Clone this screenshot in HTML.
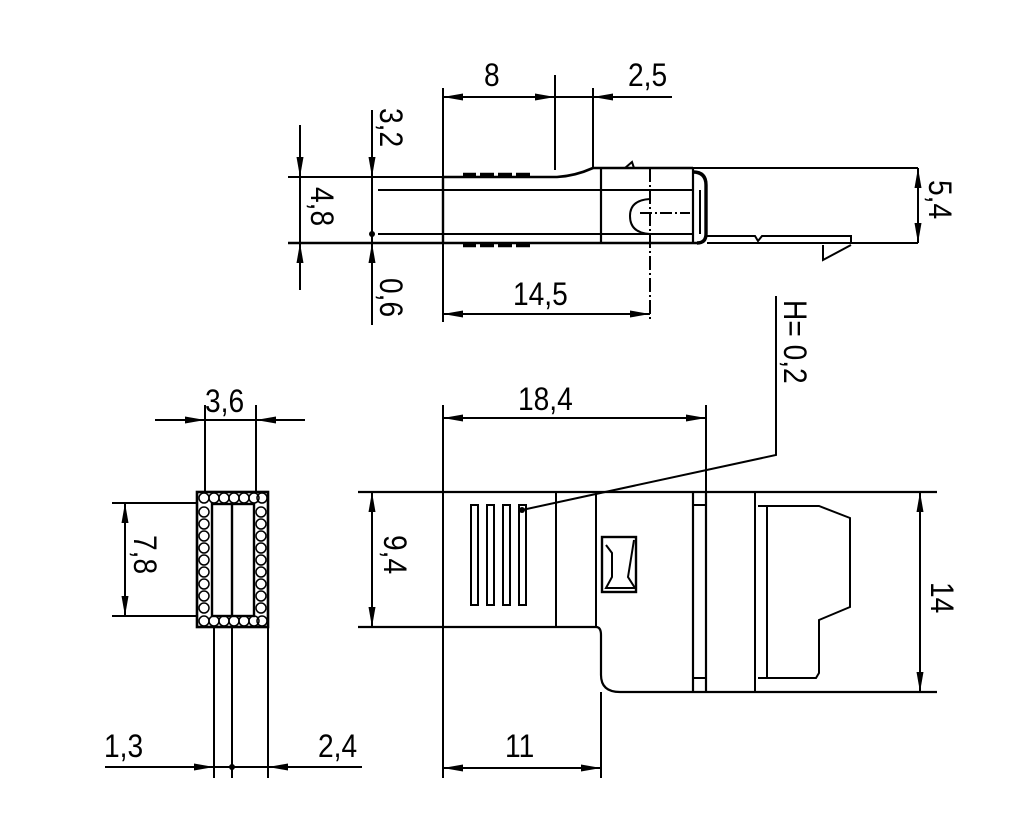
<!DOCTYPE html>
<html><head><meta charset="utf-8">
<style>
html,body{margin:0;padding:0;background:#fff;}
svg{display:block;}
text{font-family:"Liberation Sans",sans-serif;font-size:32px;fill:#000;}
</style></head>
<body>
<svg width="1012" height="834" viewBox="0 0 1012 834" xmlns="http://www.w3.org/2000/svg">
<defs>
<marker id="a" markerUnits="userSpaceOnUse" markerWidth="22" markerHeight="10" refX="20" refY="4" orient="auto">
<path d="M20,4 L0,0.5 L0,7.5 z" fill="#000"/>
</marker>
</defs>
<g stroke="#000" stroke-width="2" fill="none">
<line x1="443" y1="88" x2="443" y2="322"/>
<line x1="555" y1="75" x2="555" y2="170"/>
<line x1="593" y1="88" x2="593" y2="168"/>
<line x1="500" y1="97" x2="443" y2="97" marker-end="url(#a)"/>
<line x1="500" y1="97" x2="555" y2="97" marker-end="url(#a)"/>
<line x1="555" y1="97" x2="672" y2="97"/>
<line x1="620" y1="97" x2="593" y2="97" marker-end="url(#a)"/>
<path d="M443,177 L557,177 Q575,176 593,168 L693,168" stroke-width="2.6"/>
<path d="M625,168 L632,162 L634,168"/>
<line x1="693" y1="168" x2="918" y2="168"/>
<line x1="288" y1="177" x2="443" y2="177"/>
<line x1="378" y1="190" x2="693" y2="190"/>
<line x1="378" y1="234" x2="693" y2="234"/>
<line x1="288" y1="243" x2="700" y2="243" stroke-width="2.4"/>
<line x1="707" y1="243" x2="918" y2="243"/>
<line x1="443" y1="177" x2="443" y2="243" stroke-width="2.4"/>
<line x1="601" y1="168" x2="601" y2="243" stroke-width="2.2"/>
<line x1="693" y1="168" x2="693" y2="243" stroke-width="2.2"/>
<g stroke-width="4.5">
<line x1="463" y1="175" x2="476" y2="175"/><line x1="480" y1="175" x2="494" y2="175"/><line x1="498" y1="175" x2="512" y2="175"/><line x1="516" y1="175" x2="530" y2="175"/>
<line x1="463" y1="245" x2="476" y2="245"/><line x1="480" y1="245" x2="494" y2="245"/><line x1="498" y1="245" x2="512" y2="245"/><line x1="516" y1="245" x2="530" y2="245"/>
</g>
<path d="M693,172 Q706,172 706,185 L706,234 Q706,243 697,243" stroke-width="3.4"/>
<line x1="700" y1="190" x2="700" y2="234"/>
<path d="M650,199 Q630,200 630,216 Q630,233 650,234"/>
<line x1="640" y1="213" x2="690" y2="213" stroke-dasharray="12,3,2,3"/>
<line x1="650" y1="168" x2="650" y2="322" stroke-dasharray="14,3,2,3"/>
<path d="M707,236 L755,236 L758,241 L762,236 L851,236 L851,243" />
<path d="M823,245 L823,260 L851,245"/>
<line x1="545" y1="314" x2="443" y2="314" marker-end="url(#a)"/>
<line x1="545" y1="314" x2="650" y2="314" marker-end="url(#a)"/>
<line x1="300" y1="125" x2="300" y2="177" marker-end="url(#a)"/>
<line x1="300" y1="177" x2="300" y2="243"/>
<line x1="300" y1="290" x2="300" y2="243" marker-end="url(#a)"/>
<line x1="372" y1="110" x2="372" y2="177" marker-end="url(#a)"/>
<line x1="372" y1="177" x2="372" y2="243"/>
<line x1="372" y1="325" x2="372" y2="243" marker-end="url(#a)"/>
<line x1="918" y1="205" x2="918" y2="168" marker-end="url(#a)"/>
<line x1="918" y1="205" x2="918" y2="243" marker-end="url(#a)"/>
<polyline points="776,296 776,455 522,510"/>

<line x1="443" y1="405" x2="443" y2="778"/>
<line x1="706" y1="405" x2="706" y2="492"/>
<line x1="575" y1="418" x2="443" y2="418" marker-end="url(#a)"/>
<line x1="575" y1="418" x2="706" y2="418" marker-end="url(#a)"/>
<line x1="358" y1="492" x2="937" y2="492" stroke-width="2.2"/>
<path d="M358,627 L596,627 Q601,627 601,635 L601,675 Q601,692 620,692 L937,692" stroke-width="2.2"/>
<line x1="556" y1="492" x2="556" y2="627"/>
<line x1="596" y1="492" x2="596" y2="627"/>
<line x1="601" y1="692" x2="601" y2="778"/>
<rect x="471" y="505" width="7" height="100"/>
<rect x="487" y="505" width="7" height="100"/>
<rect x="503" y="505" width="7" height="100"/>
<rect x="519" y="505" width="7" height="100"/>
<rect x="602" y="537" width="34" height="55" stroke-width="2.4"/>
<path d="M606,545 L612,553 L612,577 L606,588 L635,588 L628,577 L634,540" />
<line x1="693" y1="492" x2="693" y2="692" stroke-width="2.2"/>
<line x1="706" y1="492" x2="706" y2="692" stroke-width="2.2"/>
<line x1="693" y1="505" x2="706" y2="505"/>
<line x1="693" y1="678" x2="706" y2="678"/>
<line x1="755" y1="492" x2="755" y2="692"/>
<path d="M758,506 L819,506 L850,518 L850,607 L819,620 L819,673 L816,678 L758,678"/>
<line x1="767" y1="506" x2="767" y2="678"/>
<line x1="920" y1="590" x2="920" y2="492" marker-end="url(#a)"/>
<line x1="920" y1="590" x2="920" y2="692" marker-end="url(#a)"/>
<line x1="372" y1="560" x2="372" y2="492" marker-end="url(#a)"/>
<line x1="372" y1="560" x2="372" y2="627" marker-end="url(#a)"/>
<line x1="520" y1="768" x2="443" y2="768" marker-end="url(#a)"/>
<line x1="520" y1="768" x2="601" y2="768" marker-end="url(#a)"/>

<rect x="197" y="492" width="71" height="135" stroke-width="2.6"/>
<rect x="212" y="504" width="42" height="112" stroke-width="2.4"/>
<line x1="232" y1="504" x2="232" y2="616" stroke-width="2.4"/>
<g stroke-width="1.5">
<circle cx="204" cy="498" r="5"/><circle cx="214" cy="498" r="5"/><circle cx="224" cy="498" r="5"/><circle cx="234" cy="498" r="5"/><circle cx="244" cy="498" r="5"/><circle cx="254" cy="498" r="5"/><circle cx="262" cy="498" r="5"/>
<circle cx="204" cy="621" r="5"/><circle cx="214" cy="621" r="5"/><circle cx="224" cy="621" r="5"/><circle cx="234" cy="621" r="5"/><circle cx="244" cy="621" r="5"/><circle cx="254" cy="621" r="5"/><circle cx="262" cy="621" r="5"/>
<circle cx="204" cy="512" r="5"/><circle cx="204" cy="524" r="5"/><circle cx="204" cy="536" r="5"/><circle cx="204" cy="548" r="5"/><circle cx="204" cy="560" r="5"/><circle cx="204" cy="572" r="5"/><circle cx="204" cy="584" r="5"/><circle cx="204" cy="596" r="5"/><circle cx="204" cy="608" r="5"/>
<circle cx="261" cy="512" r="5"/><circle cx="261" cy="524" r="5"/><circle cx="261" cy="536" r="5"/><circle cx="261" cy="548" r="5"/><circle cx="261" cy="560" r="5"/><circle cx="261" cy="572" r="5"/><circle cx="261" cy="584" r="5"/><circle cx="261" cy="596" r="5"/><circle cx="261" cy="608" r="5"/>
</g>
<line x1="205" y1="405" x2="205" y2="492"/>
<line x1="256" y1="405" x2="256" y2="492"/>
<line x1="155" y1="420" x2="205" y2="420" marker-end="url(#a)"/>
<line x1="205" y1="420" x2="256" y2="420"/>
<line x1="305" y1="420" x2="256" y2="420" marker-end="url(#a)"/>
<line x1="112" y1="503" x2="197" y2="503"/>
<line x1="112" y1="616" x2="197" y2="616"/>
<line x1="125" y1="560" x2="125" y2="503" marker-end="url(#a)"/>
<line x1="125" y1="560" x2="125" y2="616" marker-end="url(#a)"/>
<line x1="214" y1="627" x2="214" y2="778"/>
<line x1="232" y1="627" x2="232" y2="778"/>
<line x1="268" y1="627" x2="268" y2="778"/>
<line x1="105" y1="767" x2="214" y2="767" marker-end="url(#a)"/>
<line x1="214" y1="767" x2="268" y2="767"/>
<line x1="362" y1="767" x2="268" y2="767" marker-end="url(#a)"/>
</g>
<g fill="#000">
<circle cx="372" cy="234" r="3"/>
<circle cx="522" cy="510" r="3"/>
<circle cx="232" cy="767" r="3"/>
</g>
<g transform="translate(0,0)">
<text transform="translate(484,86) scale(0.88,1)">8</text>
<text transform="translate(628,86) scale(0.88,1)">2,5</text>
<text transform="translate(513,305) scale(0.88,1)">14,5</text>
<text transform="translate(518,410) scale(0.88,1)">18,4</text>
<text transform="translate(505,757) scale(0.88,1)">11</text>
<text transform="translate(205,412) scale(0.88,1)">3,6</text>
<text transform="translate(104,757) scale(0.88,1)">1,3</text>
<text transform="translate(318,757) scale(0.88,1)">2,4</text>
<text transform="translate(380,108) rotate(90) scale(0.88,1)">3,2</text>
<text transform="translate(380,278) rotate(90) scale(0.88,1)">0,6</text>
<text transform="translate(311,187) rotate(90) scale(0.88,1)">4,8</text>
<text transform="translate(929,180) rotate(90) scale(0.88,1)">5,4</text>
<text transform="translate(784,300) rotate(90) scale(0.88,1)">H= 0,2</text>
<text transform="translate(384,535) rotate(90) scale(0.88,1)">9,4</text>
<text transform="translate(134,535) rotate(90) scale(0.88,1)">7,8</text>
<text transform="translate(931,582) rotate(90) scale(0.88,1)">14</text>
</g>
</svg>
</body></html>
